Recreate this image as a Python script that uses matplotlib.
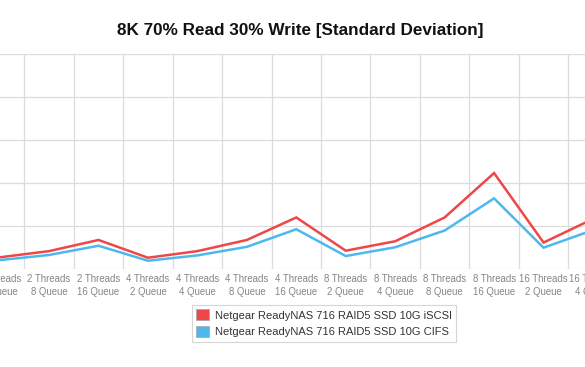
import matplotlib
matplotlib.use("Agg")
import matplotlib.pyplot as plt
from matplotlib.patches import Patch

# Datos (categorias visibles del grafico recortado)
categories = [
    "2 Threads\n4 Queue", "2 Threads\n8 Queue", "2 Threads\n16 Queue",
    "4 Threads\n2 Queue", "4 Threads\n4 Queue", "4 Threads\n8 Queue", "4 Threads\n16 Queue",
    "8 Threads\n2 Queue", "8 Threads\n4 Queue", "8 Threads\n8 Queue", "8 Threads\n16 Queue",
    "16 Threads\n2 Queue", "16 Threads\n4 Queue",
]
iscsi = [2.65, 4.1, 6.7, 2.56, 4.1, 6.7, 11.95, 4.2, 6.4, 11.95, 22.3, 6.1, 11.6]
cifs = [2.0, 3.2, 5.35, 1.86, 3.1, 5.1, 9.2, 2.95, 5.0, 8.9, 16.4, 4.9, 9.0]
series_names = [
    "Netgear ReadyNAS 716 RAID5 SSD 10G iSCSI",
    "Netgear ReadyNAS 716 RAID5 SSD 10G CIFS",
]
colors = ["#EF4747", "#4DB8EE"]

plt.rcParams['font.family'] = ['Liberation Sans', 'DejaVu Sans']

W, H = 585, 367
fig = plt.figure(figsize=(W / 100, H / 100), dpi=100)

# el area del grafico se sale de la figura (imagen recortada)
left_px, right_px = -25.1, 617.7
top_px, bottom_px = 54.3, 268.7
ax = fig.add_axes([left_px / W, 1 - bottom_px / H,
                   (right_px - left_px) / W, (bottom_px - top_px) / H])

x = list(range(len(categories)))
ax.plot(x, iscsi, color=colors[0], lw=1.8, solid_joinstyle='miter', zorder=3)
ax.plot(x, cifs, color=colors[1], lw=1.8, solid_joinstyle='miter', zorder=3)

ax.set_xlim(-0.5, len(categories) - 0.5)
ax.set_ylim(0, 50)
ax.set_yticks(range(0, 51, 10))
ax.set_yticklabels([])
ax.set_xticks(x)
ax.set_xticklabels(categories, fontsize=6.9, color='#858585', linespacing=1.3)
ax.set_xticks([i + 0.5 for i in range(-1, len(categories))], minor=True)
ax.tick_params(axis='both', which='both', length=0)
ax.tick_params(axis='x', pad=4)

ax.grid(True, which='major', axis='y', color='#dcdcdc', lw=0.9)
ax.grid(True, which='minor', axis='x', color='#dcdcdc', lw=0.9)
for s in ax.spines.values():
    s.set_visible(False)
ax.set_axisbelow(True)

fig.text(300.5 / W, 1 - 30 / H, "8K 70% Read 30% Write [Standard Deviation]",
         ha='center', va='center', fontsize=12.3, fontweight='bold', color='#111111')

handles = [Patch(facecolor=c, edgecolor='#aaaaaa', lw=0.6) for c in colors]
leg = fig.legend(handles, series_names, loc='upper left',
                 bbox_to_anchor=(191.7 / W, 1 - 305 / H), fontsize=8.0,
                 frameon=True, fancybox=False, edgecolor='#cccccc',
                 handlelength=1.2, handleheight=1.1, handletextpad=0.5,
                 labelspacing=0.5, borderpad=0.4, borderaxespad=0)
leg.get_frame().set_linewidth(0.8)
for t in leg.get_texts():
    t.set_color('#333333')

fig.savefig("out.png", dpi=100)
